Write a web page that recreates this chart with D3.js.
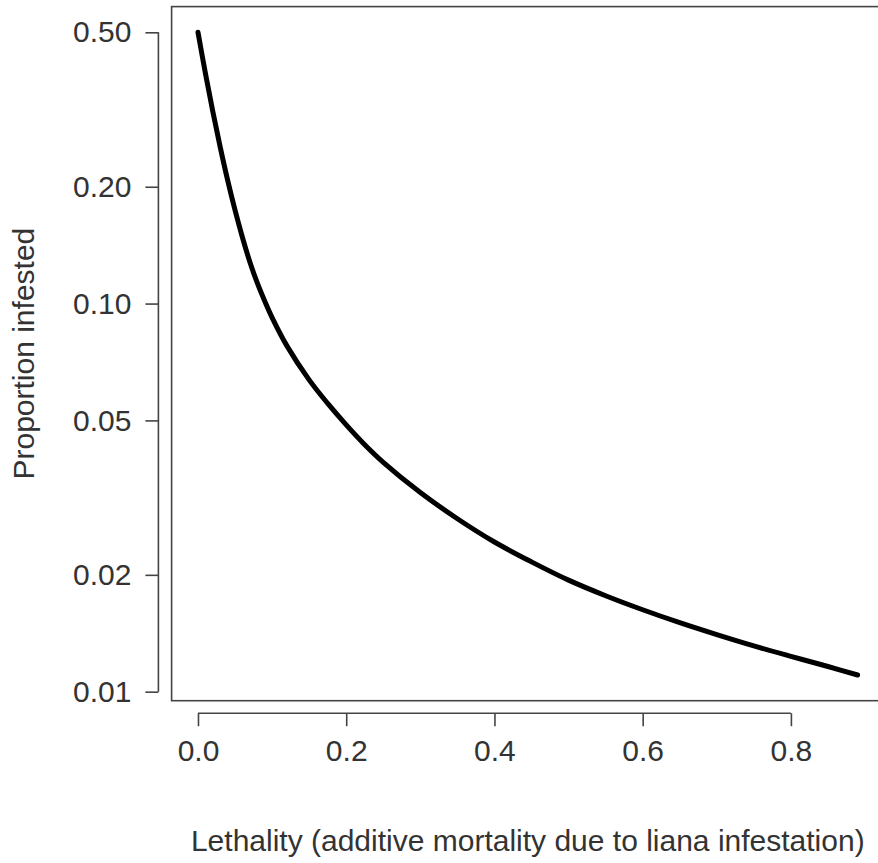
<!DOCTYPE html>
<html>
<head>
<meta charset="utf-8">
<script src="https://cdn.jsdelivr.net/npm/d3@7"></script>
<style>
  html, body { margin: 0; padding: 0; background: #fff; }
  svg { display: block; }
  text { font-family: "Liberation Sans", Arial, Helvetica, sans-serif; fill: #333; }
</style>
</head>
<body>
<svg id="chart" width="878" height="863"></svg>
<script>
// Lethality (additive mortality) vs. proportion of trees infested
const lethality = [0, 0.01, 0.02, 0.03, 0.04, 0.05, 0.06, 0.07, 0.08, 0.09, 0.10,
                   0.12, 0.15, 0.175, 0.20, 0.225, 0.25, 0.30, 0.35, 0.40, 0.45, 0.50,
                   0.55, 0.60, 0.65, 0.70, 0.75, 0.80, 0.85, 0.89];
const proportion = [0.5, 0.392, 0.3125, 0.253, 0.208, 0.174, 0.148, 0.128, 0.113, 0.1015, 0.092,
                    0.0778, 0.0636, 0.0553, 0.0487, 0.0433, 0.039, 0.0326, 0.0279, 0.0243, 0.0216, 0.01938,
                    0.01767, 0.01626, 0.01506, 0.01403, 0.01312, 0.01233, 0.01161, 0.01104];

const xTicks = [0, 0.2, 0.4, 0.6, 0.8];
const xTickLabels = ["0.0", "0.2", "0.4", "0.6", "0.8"];
const yTicks = [0.01, 0.02, 0.05, 0.1, 0.2, 0.5];
const yTickLabels = ["0.01", "0.02", "0.05", "0.10", "0.20", "0.50"];

const xTitle = "Lethality (additive mortality due to liana infestation)";
const yTitle = "Proportion infested";

// plot region (box)
const box = { left: 171.6, right: 884, top: 6.6, bottom: 700.7 };
const fontSize = 30;

const svg = d3.select("#chart");

// R-style 4% padding on each side of the data range
const xExt = d3.extent(lethality);
const xPad = (xExt[1] - xExt[0]) * 0.04;
const x = d3.scaleLinear()
  .domain([xExt[0] - xPad, xExt[1] + xPad])
  .range([box.left, box.right]);

const lyExt = d3.extent(proportion).map(Math.log10);
const lyPad = (lyExt[1] - lyExt[0]) * 0.04;
const y = d3.scaleLog()
  .domain([Math.pow(10, lyExt[0] - lyPad), Math.pow(10, lyExt[1] + lyPad)])
  .range([box.bottom, box.top]);

// plot box
svg.append("rect")
  .attr("x", box.left).attr("y", box.top)
  .attr("width", box.right - box.left).attr("height", box.bottom - box.top)
  .attr("fill", "none").attr("stroke", "#444").attr("stroke-width", 1.6);

// x axis, offset below the box
const xAxis = d3.axisBottom(x)
  .tickValues(xTicks)
  .tickFormat((d, i) => xTickLabels[i])
  .tickSize(13)
  .tickSizeOuter(0)
  .tickPadding(14);
const gx = svg.append("g")
  .attr("transform", `translate(0,${box.bottom + 12.5})`)
  .call(xAxis);
gx.select(".domain")
  .attr("d", `M${x(xTicks[0])},0H${x(xTicks[xTicks.length - 1])}`)
  .attr("stroke", "#444").attr("stroke-width", 1.6);
gx.selectAll(".tick line").attr("stroke", "#444").attr("stroke-width", 1.6);
gx.selectAll(".tick text")
  .style("font-family", '"Liberation Sans", Arial, sans-serif')
  .attr("font-size", fontSize).attr("fill", "#333");

// y axis, offset left of the box
const yAxis = d3.axisLeft(y)
  .tickValues(yTicks)
  .tickFormat((d, i) => yTickLabels[i])
  .tickSize(13)
  .tickSizeOuter(0)
  .tickPadding(14);
const gy = svg.append("g")
  .attr("transform", `translate(${box.left - 13.2},0)`)
  .call(yAxis);
gy.select(".domain")
  .attr("d", `M0,${y(yTicks[0])}V${y(yTicks[yTicks.length - 1])}`)
  .attr("stroke", "#444").attr("stroke-width", 1.6);
gy.selectAll(".tick line").attr("stroke", "#444").attr("stroke-width", 1.6);
gy.selectAll(".tick text")
  .style("font-family", '"Liberation Sans", Arial, sans-serif')
  .attr("font-size", fontSize).attr("fill", "#333");

// curve
const pts = lethality.map((l, i) => [l, proportion[i]]);
svg.append("path")
  .datum(pts)
  .attr("fill", "none")
  .attr("stroke", "#000")
  .attr("stroke-width", 5)
  .attr("stroke-linecap", "round")
  .attr("stroke-linejoin", "round")
  .attr("d", d3.line().x(d => x(d[0])).y(d => y(d[1])).curve(d3.curveCatmullRom.alpha(0.5)));

// axis titles
svg.append("text")
  .attr("x", (box.left + box.right) / 2)
  .attr("y", 851)
  .attr("text-anchor", "middle")
  .attr("font-size", fontSize)
  .text(xTitle);

svg.append("text")
  .attr("transform", `translate(34,${(box.top + box.bottom) / 2}) rotate(-90)`)
  .attr("text-anchor", "middle")
  .attr("font-size", fontSize)
  .text(yTitle);
</script>
</body>
</html>
